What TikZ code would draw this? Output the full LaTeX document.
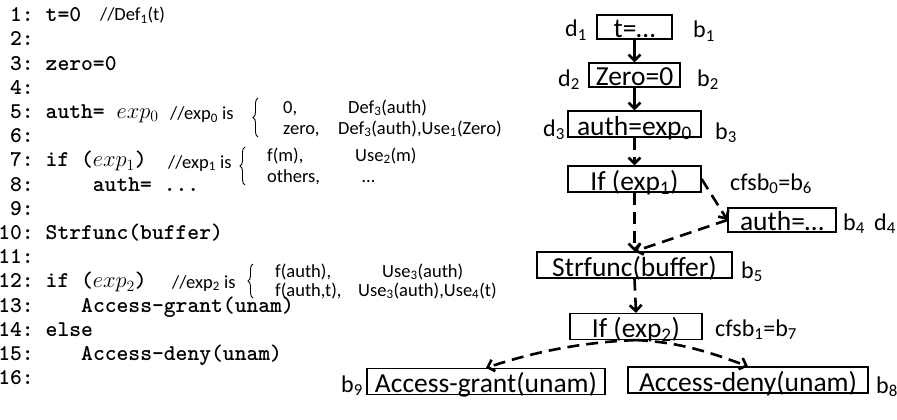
\RequirePackage{fix-cm}
\documentclass[tikz,border=0pt]{standalone}
\usepackage{fontspec}
\setmainfont{Carlito}
\newfontfamily\codefont{lmmonolt10-bold.otf}
\usetikzlibrary{arrows.meta,decorations.pathreplacing}
\newcommand{\sbs}[1]{\textsubscript{#1}}
\tikzset{
 code/.style={font=\codefont\fontsize{22.5}{24}\selectfont, inner sep=0pt, anchor=base west},
 lnum/.style={font=\codefont\fontsize{22.5}{24}\selectfont, inner sep=0pt, anchor=base east},
 cmt/.style={font=\fontsize{18.5}{20}\selectfont, inner sep=0pt, anchor=base west},
 blk/.style={draw, line width=1.2pt, inner sep=0pt, font=\fontsize{27.5}{30}\selectfont, text height=24pt, text depth=2pt},
 blks/.style={blk, text height=22.5pt, text depth=1.5pt},
 lab/.style={font=\fontsize{24}{26}\selectfont, inner sep=0pt, anchor=base west},
 solidarr/.style={line width=2.6pt, -{Straight Barb[length=6pt,width=12pt]}},
 dasharr/.style={solidarr, dash pattern=on 12pt off 7pt},
 cbrace/.style={decorate, decoration={brace, amplitude=5pt}, line width=0.9pt},
}
\begin{document}
\begin{tikzpicture}[x=1pt,y=-1pt]
\useasboundingbox (0,0) rectangle (897,420);
% line numbers
\foreach \n [evaluate=\n as \yy using 21.7+24.2*(\n-1)] in {1,...,16}
  \node[lnum] (n\n) at (34,\yy) {\n:};
% code
\node[code] (c1) at (45.5,21.7) {t=0};
\node[code] (c3) at (45.5,70.1) {zero=0};
\node[code] (c5) at (45.5,118.5) {auth= $exp_0$};
\node[code] (c7) at (45.5,166.9) {if ($exp_1$)};
\node[code] (c8) at (92.7,191.1) {auth= ...};
\node[code] (c10) at (45.5,239.5) {Strfunc(buffer)};
\node[code] (c12) at (45.5,287.9) {if ($exp_2$)};
\node[code] (c13) at (81,312.1) {Access-grant(unam)};
\node[code] (c14) at (45.5,336.3) {else};
\node[code] (c15) at (81,360.5) {Access-deny(unam)};
% comments
\node[cmt] (k1) at (100,21) {//Def\sbs{1}(t)};
\node[cmt] (k5) at (170,119.5) {//exp\sbs{0} is};
\draw[cbrace] (258,137) -- (258,98);
\node[cmt] (k5a) at (283,113) {0,};
\node[cmt] (k5b) at (283,134) {zero,};
\node[cmt] (k5c) at (348,113) {Def\sbs{3}(auth)};
\node[cmt] (k5d) at (338,134) {Def\sbs{3}(auth),Use\sbs{1}(Zero)};
\node[cmt] (k7) at (168,168) {//exp\sbs{1} is};
\draw[cbrace] (245,185) -- (245,147);
\node[cmt] (k7a) at (267,161) {f(m),};
\node[cmt] (k7b) at (267,182) {others,};
\node[cmt] (k7c) at (355,161) {Use\sbs{2}(m)};
\node[cmt] (k7d) at (362,182) {…};
\node[cmt] (k12) at (172,288) {//exp\sbs{2} is};
\draw[cbrace] (253,298) -- (253,264);
\node[cmt] (k12a) at (275,277) {f(auth),};
\node[cmt] (k12b) at (275,296) {f(auth,t),};
\node[cmt] (k12c) at (382,277) {Use\sbs{3}(auth)};
\node[cmt] (k12d) at (358,296) {Use\sbs{3}(auth),Use\sbs{4}(t)};
% blocks
\node[blks, minimum width=75pt] (t) at (634.5,27) {t=…};
\node[blks, minimum width=91pt] (zero) at (634.5,75) {Zero=0};
\node[blk, minimum width=133pt] (auth3) at (634.5,124) {auth=exp\sbs{0}};
\node[blk, minimum width=133pt] (if1) at (634.5,179) {If (exp\sbs{1})};
\node[blks, minimum width=108pt] (auth4) at (782,220) {auth=…};
\node[blk, minimum width=195pt] (strf) at (634.5,265) {Strfunc(buffer)};
\node[blk, minimum width=132pt] (if2) at (636,326.5) {If (exp\sbs{2})};
\node[blk, minimum width=238pt] (grant) at (486,381.5) {Access-grant(unam)};
\node[blk, minimum width=240pt] (deny) at (748,380) {Access-deny(unam)};
% labels
\node[lab] (d1) at (565,37) {d\sbs{1}};
\node[lab] (b1) at (693,38) {b\sbs{1}};
\node[lab] (d2) at (558,86) {d\sbs{2}};
\node[lab] (b2) at (697,86) {b\sbs{2}};
\node[lab] (d3) at (543,136) {d\sbs{3}};
\node[lab] (b3) at (715,139) {b\sbs{3}};
\node[lab] (cf0) at (730,190) {cfsb\sbs{0}=b\sbs{6}};
\node[lab] (b4) at (843,230) {b\sbs{4}};
\node[lab] (d4) at (874,230) {d\sbs{4}};
\node[lab] (b5) at (741,278) {b\sbs{5}};
\node[lab] (cf1) at (715,336) {cfsb\sbs{1}=b\sbs{7}};
\node[lab] (b8) at (876,393) {b\sbs{8}};
\node[lab] (b9) at (341,392) {b\sbs{9}};
% connectors
\draw[solidarr] (t.south) -- (zero.north);
\draw[solidarr] (zero.south) -- (auth3.north);
\draw[dasharr] (auth3.south) -- (if1.north);
\draw[dasharr] (if1.south) -- (strf.north);
\draw[dasharr] (if1.east) -- (auth4.west);
\draw[dasharr] (auth4.west) -- (strf.north);
\draw[dasharr] (strf.south) -- (if2.north);
\draw[dasharr] (if2.south) .. controls +(-56,2) and +(45,-15) .. (grant.north);
\draw[dasharr] (if2.south) .. controls +(45,2) and +(-35,-13) .. (deny.north);
\end{tikzpicture}
\end{document}
